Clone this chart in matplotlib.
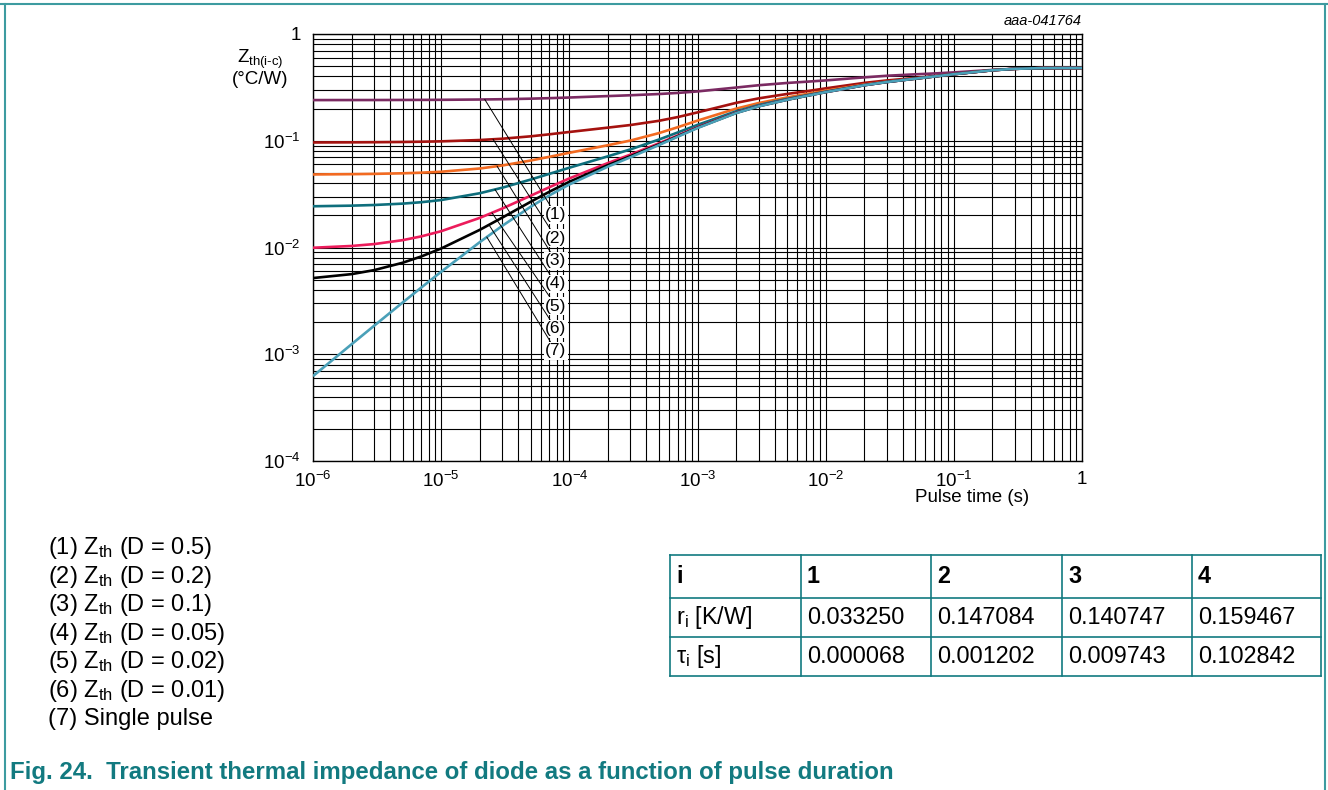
import numpy as np
import matplotlib
matplotlib.use("Agg")
import matplotlib.pyplot as plt
from matplotlib.lines import Line2D
from matplotlib.ticker import FixedLocator, FixedFormatter, LogLocator, NullFormatter

plt.rcParams['font.family'] = ['Liberation Sans', 'DejaVu Sans']
plt.rcParams['mathtext.fontset'] = 'custom'
plt.rcParams['mathtext.rm'] = 'Liberation Sans'
plt.rcParams['mathtext.it'] = 'Liberation Sans:italic'
plt.rcParams['mathtext.bf'] = 'Liberation Sans:bold'
plt.rcParams['mathtext.default'] = 'regular'

# pulse time (s) and Zth (degC/W) for each duty cycle
pulse_time = [1e-6, 2e-6, 3e-6, 5e-6, 7e-6, 1e-5, 2e-5, 3e-5, 5e-5, 7e-5, 1e-4, 2e-4, 3e-4,
              5e-4, 7e-4, 1e-3, 2e-3, 3e-3, 5e-3, 7e-3, 1e-2, 2e-2, 3e-2, 5e-2, 7e-2, 0.1,
              0.2, 0.3, 0.5, 0.7, 1.0]

zth_d050 = [0.2404, 0.2406, 0.2407, 0.2411, 0.2414, 0.2418, 0.2434, 0.2449, 0.2479, 0.2506,
            0.2541, 0.2621, 0.2668, 0.2740, 0.2805, 0.2898, 0.3150, 0.3312, 0.3478, 0.3570,
            0.3675, 0.3925, 0.4062, 0.4190, 0.4268, 0.4368, 0.4606, 0.4724, 0.4793, 0.4804,
            0.4805]
zth_d020 = [0.09636, 0.09662, 0.09688, 0.09740, 0.09793, 0.09875, 0.10157, 0.10447, 0.11004,
            0.11493, 0.12081, 0.13273, 0.14041, 0.15375, 0.16657, 0.18436, 0.22633, 0.24948,
            0.27432, 0.29045, 0.30953, 0.34834, 0.36719, 0.38757, 0.40241, 0.42100, 0.45774,
            0.47192, 0.47932, 0.48037, 0.48054]
zth_d010 = [0.04834, 0.04864, 0.04894, 0.04957, 0.05023, 0.05126, 0.05495, 0.05866, 0.06531,
            0.07075, 0.07715, 0.09081, 0.10051, 0.11791, 0.13384, 0.15438, 0.19981, 0.22543,
            0.25453, 0.27334, 0.29438, 0.33590, 0.35726, 0.38213, 0.39979, 0.42024, 0.45774,
            0.47192, 0.47932, 0.48037, 0.48054]
zth_d005 = [0.02434, 0.02466, 0.02501, 0.02576, 0.02656, 0.02784, 0.03223, 0.03633, 0.04332,
            0.04902, 0.05589, 0.07149, 0.08303, 0.10261, 0.11947, 0.14081, 0.18856, 0.21596,
            0.24671, 0.26614, 0.28786, 0.33178, 0.35507, 0.38165, 0.39970, 0.42023, 0.45774,
            0.47192, 0.47932, 0.48037, 0.48054]
zth_d002 = [0.009946, 0.010335, 0.010766, 0.011712, 0.012712, 0.014214, 0.018933, 0.023191,
            0.030571, 0.036754, 0.044383, 0.061844, 0.074191, 0.094495, 0.111961, 0.134142,
            0.183526, 0.211487, 0.242836, 0.262884, 0.285508, 0.331195, 0.354955, 0.38165,
            0.399704, 0.420229, 0.45774, 0.471922, 0.479315, 0.480371, 0.480538]
zth_d001 = [0.005173, 0.005631, 0.006138, 0.007194, 0.008245, 0.009787, 0.014633, 0.019062,
            0.026828, 0.033332, 0.041268, 0.059074, 0.071644, 0.092376, 0.110133, 0.132534,
            0.182171, 0.21036, 0.242165, 0.262535, 0.285392, 0.331195, 0.354955, 0.38165,
            0.399704, 0.420229, 0.45774, 0.471922, 0.479315, 0.480371, 0.480538]
zth_single = [0.000624, 0.001241, 0.00185, 0.003048, 0.004218, 0.005926, 0.01122, 0.015966,
              0.024103, 0.03081, 0.038944, 0.05721, 0.07007, 0.091098, 0.109018, 0.131595,
              0.181658, 0.210098, 0.242106, 0.262523, 0.285392, 0.331195, 0.354955, 0.38165,
              0.399704, 0.420229, 0.45774, 0.471922, 0.479315, 0.480371, 0.480538]

duty_cycles = ['0.5', '0.2', '0.1', '0.05', '0.02', '0.01']

# Foster network table
stage_idx = ['1', '2', '3', '4']
r_i = [0.033250, 0.147084, 0.140747, 0.159467]
tau_i = [0.000068, 0.001202, 0.009743, 0.102842]

x_ticks = [1e-6, 1e-5, 1e-4, 1e-3, 1e-2, 1e-1, 1]
x_tick_labels = ['10$^{-6}$', '10$^{-5}$', '10$^{-4}$', '10$^{-3}$', '10$^{-2}$', '10$^{-1}$', '1']
y_ticks = [1e-4, 1e-3, 1e-2, 1e-1, 1]
y_tick_labels = ['10$^{-4}$', '10$^{-3}$', '10$^{-2}$', '10$^{-1}$', '1']

W, H = 1328, 790
TEAL = '#127a80'
fig = plt.figure(figsize=(W / 100, H / 100), dpi=100)


def fx(px):
    return px / W


def fy(py):
    return 1 - py / H


ax = fig.add_axes([fx(313), fy(461), fx(1082) - fx(313), fy(34) - fy(461)])

curves = [zth_d050, zth_d020, zth_d010, zth_d005, zth_d002, zth_d001, zth_single]
colors = ['#7b2a62', '#a5120f', '#f26a21', '#0e6e7c', '#ec1c5b', '#000000', '#4aa0b8']
for z, c in zip(curves, colors):
    ax.plot(pulse_time, z, color=c, lw=1.9, solid_capstyle='butt', zorder=3)

ax.set_xscale('log')
ax.set_yscale('log')
ax.set_xlim(1e-6, 1)
ax.set_ylim(1e-4, 1)
ax.xaxis.set_major_locator(FixedLocator(x_ticks))
ax.xaxis.set_major_formatter(FixedFormatter(x_tick_labels))
ax.yaxis.set_major_locator(FixedLocator(y_ticks))
ax.yaxis.set_major_formatter(FixedFormatter(y_tick_labels))
for axis in (ax.xaxis, ax.yaxis):
    axis.set_minor_locator(LogLocator(base=10, subs=np.arange(2, 10), numticks=20))
    axis.set_minor_formatter(NullFormatter())
ax.grid(which='both', color='black', lw=0.8, zorder=1)
ax.tick_params(which='both', length=0, labelsize=13.5)
ax.tick_params(axis='x', pad=7)
ax.tick_params(axis='y', pad=9)
for sp in ax.spines.values():
    sp.set_linewidth(1.0)

# curve numbers with leader lines
leader_t = [2.19e-5, 2.54e-5, 2.73e-5, 2.63e-5, 2.49e-5, 2.36e-5, 2.27e-5]
label_y_px = [215, 238, 261, 284, 306, 329, 351]
log_t = np.log10(pulse_time)
for k, (z, t0, ly) in enumerate(zip(curves, leader_t, label_y_px)):
    y0 = 10 ** np.interp(np.log10(t0), log_t, np.log10(z))
    ax.annotate(f'({k + 1})', xy=(t0, y0), xycoords='data',
                xytext=(fx(556), fy(ly)), textcoords='figure fraction',
                ha='center', va='center', fontsize=12.5, zorder=6,
                bbox=dict(boxstyle='square,pad=0.08', fc='white', ec='none'),
                arrowprops=dict(arrowstyle='-', color='black', lw=0.7,
                                shrinkA=0, shrinkB=0))

fig.text(fx(260), fy(59), 'Z$_{th(i\\text{-}c)}$', fontsize=13.5, ha='center', va='center')
fig.text(fx(260), fy(80), '(°C/W)', fontsize=13.5, ha='center', va='center')
fig.text(fx(972), fy(497), 'Pulse time (s)', fontsize=13.5, ha='center', va='center')
fig.text(fx(1082), fy(21), 'aaa-041764', fontsize=10.5, style='italic', ha='right', va='center')

# legend lines under the chart
legend_y = [548, 577, 605, 634, 662, 691, 719]
legend_txt = [f'({k + 1}) Z$_{{th}}$ (D = {d})' for k, d in enumerate(duty_cycles)]
legend_txt.append('(7) Single pulse')
for txt, yy in zip(legend_txt, legend_y):
    fig.text(fx(48), fy(yy), txt, fontsize=17, ha='left', va='center')

# parameter table
tab = fig.add_axes([fx(670), fy(676), fx(1321) - fx(670), fy(555) - fy(676)])
tw, th = 1321 - 670, 676 - 555
tab.set_xlim(0, tw)
tab.set_ylim(th, 0)
tab.axis('off')
col_edges = [0, 131, 261, 392, 522, tw]
row_edges = [0, 43, 82, th]
for xe in col_edges:
    tab.plot([xe, xe], [0, th], color=TEAL, lw=1.2, clip_on=False)
for ye in row_edges:
    tab.plot([0, tw], [ye, ye], color=TEAL, lw=1.2, clip_on=False)
rows = [['i'] + stage_idx,
        ['r$_i$ [K/W]'] + [f'{v:.6f}' for v in r_i],
        ['τ$_i$ [s]'] + [f'{v:.6f}' for v in tau_i]]
for r, row in enumerate(rows):
    yc = (row_edges[r] + row_edges[r + 1]) / 2
    for c, cell in enumerate(row):
        tab.text(col_edges[c] + 6, yc, cell, fontsize=16.8, ha='left', va='center',
                 weight='bold' if r == 0 else 'normal')

fig.text(fx(10), fy(772),
         'Fig. 24.  Transient thermal impedance of diode as a function of pulse duration',
         fontsize=17.3, weight='bold', color=TEAL, ha='left', va='center')

# page frame
frame = dict(transform=fig.transFigure, color='#3d9ba0', lw=1.5)
fig.add_artist(Line2D([0, 1], [fy(4), fy(4)], **frame))
fig.add_artist(Line2D([fx(5), fx(5)], [0, fy(4)], **frame))
fig.add_artist(Line2D([fx(1325), fx(1325)], [0, fy(4)], **frame))

fig.savefig('out.png', dpi=100)
